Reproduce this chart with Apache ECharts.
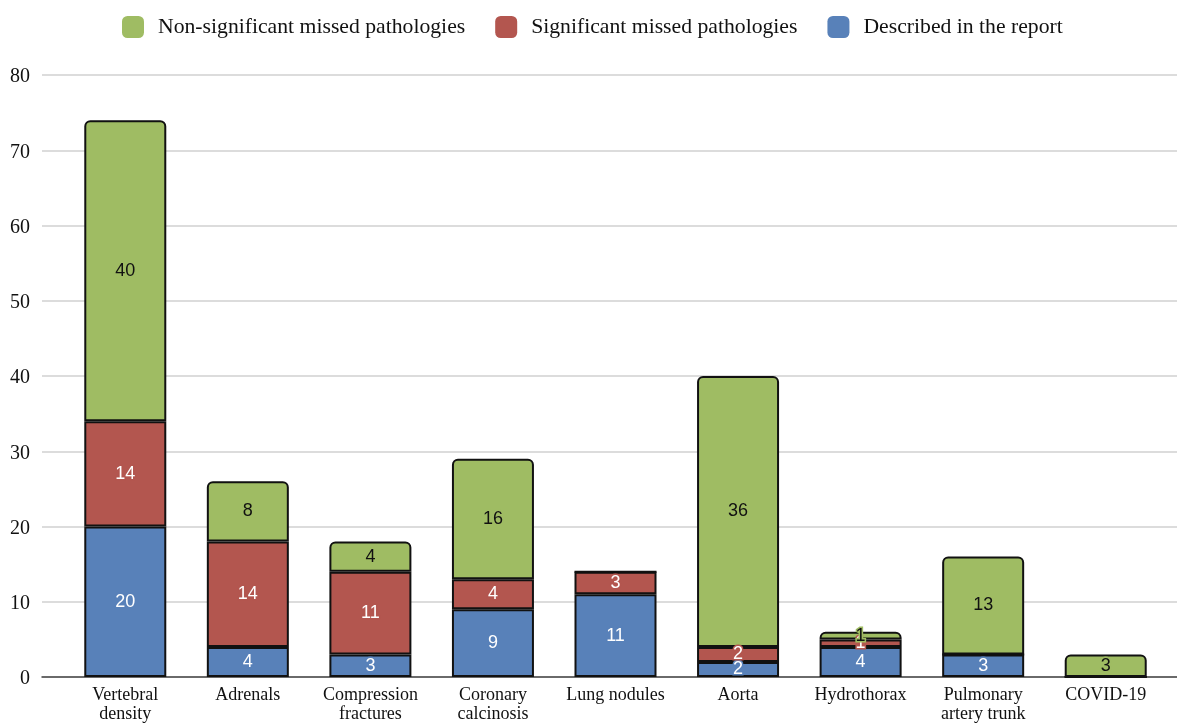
<!DOCTYPE html>
<html>
<head>
<meta charset="utf-8">
<script src="https://cdn.jsdelivr.net/npm/echarts@6/dist/echarts.min.js"></script>
<style>
html,body{margin:0;padding:0;background:#fff;}
#chart{width:1177px;height:725px;}
</style>
</head>
<body>
<div id="chart"></div>
<script>
var categories = ['Vertebral\ndensity', 'Adrenals', 'Compression\nfractures', 'Coronary\ncalcinosis', 'Lung nodules', 'Aorta', 'Hydrothorax', 'Pulmonary\nartery trunk', 'COVID-19'];
var described = [20, 4, 3, 9, 11, 2, 4, 3, 0];
var significant = [14, 14, 11, 4, 3, 2, 1, 0, 0];
var nonSignificant = [40, 8, 4, 16, 0, 36, 1, 13, 3];
var yTicks = [0, 10, 20, 30, 40, 50, 60, 70, 80];

var names = ['Non-significant missed pathologies', 'Significant missed pathologies', 'Described in the report'];
var GREEN = '#9fbc63', RED = '#b3564f', BLUE = '#5881b9';
var SERIF = '"Liberation Serif","Times New Roman",serif';
var SANS = '"Liberation Sans",Arial,sans-serif';

function mkSeries(name, data, color, textColor, radius) {
  return {
    name: name, type: 'bar', stack: 'total', xAxisIndex: 1, yAxisIndex: 1,
    barWidth: 82, data: data,
    itemStyle: { color: color, borderColor: '#111', borderWidth: 2, borderRadius: radius },
    label: {
      show: true, position: 'inside', color: textColor, fontFamily: SANS, fontSize: 18,
      textBorderColor: color, textBorderWidth: 3,
      formatter: function (p) { return p.value === 0 ? '' : String(p.value); }
    }
  };
}

var chart = echarts.init(document.getElementById('chart'), null, { renderer: 'canvas' });
chart.setOption({
  animation: false,
  backgroundColor: '#fff',
  legend: {
    data: names, left: 117, top: 11, itemWidth: 22, itemHeight: 22, itemGap: 30,
    icon: 'roundRect',
    itemStyle: { borderWidth: 0 },
    textStyle: { fontFamily: SERIF, fontSize: 21.7, color: '#111', padding: [0, 0, 0, 9] }
  },
  grid: [
    { left: 42, right: 0, top: 75, bottom: 48 },
    { left: 64, right: 10, top: 75, bottom: 48 }
  ],
  xAxis: [
    { gridIndex: 0, type: 'category', data: [''], axisLine: { show: true, lineStyle: { color: '#444', width: 1.5 } },
      axisTick: { show: false }, axisLabel: { show: false } },
    { gridIndex: 1, type: 'category', data: categories, axisLine: { show: false }, axisTick: { show: false },
      axisLabel: { fontFamily: SERIF, fontSize: 18, color: '#111', margin: 9, lineHeight: 19, interval: 0 } }
  ],
  yAxis: [
    { gridIndex: 0, type: 'value', min: yTicks[0], max: yTicks[yTicks.length - 1], interval: 10,
      axisLine: { show: false }, axisTick: { show: false },
      axisLabel: { fontFamily: SERIF, fontSize: 20, color: '#111', margin: 12, verticalAlign: 'top', lineHeight: 20, padding: [-8, 0, 0, 0] },
      splitLine: { lineStyle: { color: '#d0d0d0', width: 1.5 } } },
    { gridIndex: 1, type: 'value', min: yTicks[0], max: yTicks[yTicks.length - 1], interval: 10, show: false,
      splitLine: { show: false } }
  ],
  series: [
    mkSeries(names[2], described, BLUE, '#fff', 0),
    mkSeries(names[1], significant, RED, '#fff', 0),
    mkSeries(names[0], nonSignificant, GREEN, '#111', [5, 5, 0, 0])
  ]
});
</script>
</body>
</html>
